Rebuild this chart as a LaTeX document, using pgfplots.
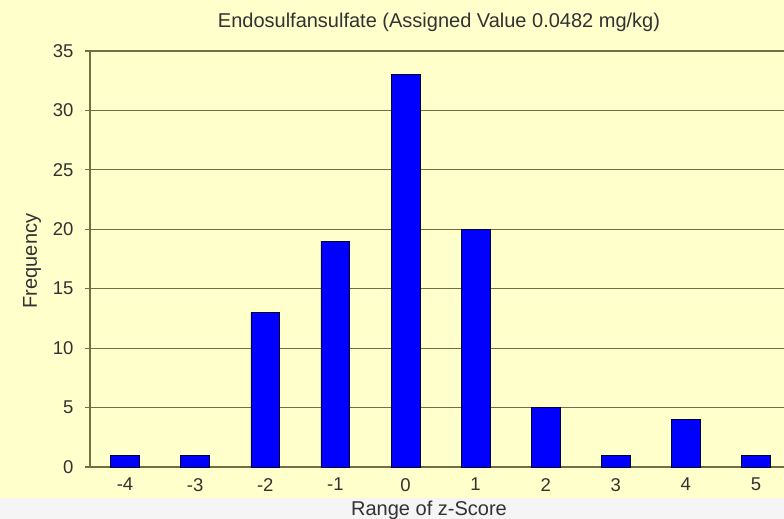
\documentclass[border=0pt]{standalone}
\usepackage{fontspec}
\setmainfont{Liberation Sans}
\usepackage{pgfplots}
\pgfplotsset{compat=1.18}
\definecolor{bgyellow}{RGB}{255,255,204}
\definecolor{gridc}{RGB}{115,110,70}
\definecolor{barblue}{RGB}{0,0,255}
\definecolor{txt}{RGB}{50,50,50}

\begin{document}
\begin{tikzpicture}
\fill[bgyellow] (-90pt,-31pt) rectangle (694pt,467pt);
\fill[black!4] (-90pt,-52pt) rectangle (694pt,-31pt);
\path[use as bounding box] (-90pt,-52pt) rectangle (694pt,467pt);
\begin{axis}[
    at={(0pt,0pt)}, anchor=south west,
    scale only axis, width=694pt, height=416pt,
    xmin=-4.5, xmax=5.4, ymin=0, ymax=35,
    axis lines*=left,
    axis line style={gridc, line width=1.2pt},
    ymajorgrids, grid style={gridc, line width=1.1pt},
    ytick={0,5,...,35},
    xtick={-4,...,5},
    x tick style={draw=none},
    y tick style={gridc, line width=1.1pt},
    tick align=outside, major tick length=5pt,
    extra x ticks={-4.5,-3.5,...,4.5},
    extra x tick labels={},
    extra x tick style={grid=none, tick style={draw=gridc, line width=1.1pt}, major tick length=5pt},
    /pgf/number format/assume math mode=true,
    tick label style={font=\fontsize{18.5}{20}\selectfont, text=txt},
    xticklabel style={yshift=-5pt, inner sep=1pt},
    yticklabel style={xshift=-8pt},
    ybar, bar width=0.41,
    clip=false,
]
\addplot[fill=barblue, draw=black!80!blue, line width=0.6pt]
    coordinates {(-4,1)(-3,1)(-2,13)(-1,19)(0,33)(1,20)(2,5)(3,1)(4,4)(5,1)};
\end{axis}
\node[font=\fontsize{20}{22}\selectfont, text=txt] at (349pt,445pt) {Endosulfansulfate (Assigned Value 0.0482 mg/kg)};
\node[font=\fontsize{20}{22}\selectfont, text=txt, rotate=90] at (-58pt,206pt) {Frequency};
\node[font=\fontsize{20}{22}\selectfont, text=txt, inner sep=1pt] at (339pt,-43pt) {Range of z-Score};
\end{tikzpicture}
\end{document}
